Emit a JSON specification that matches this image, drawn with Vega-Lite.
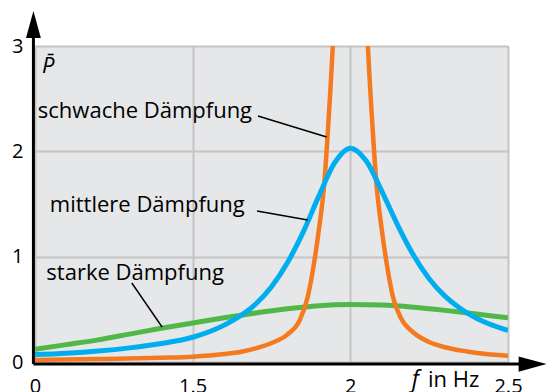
{
  "$schema": "https://vega.github.io/schema/vega-lite/v6.json",
  "width": 473,
  "height": 316,
  "autosize": {"type": "none"},
  "padding": {"left": 35, "top": 46, "right": 40, "bottom": 30},
  "background": "white",
  "config": {
    "view": {"fill": "#e6e7e8", "stroke": null},
    "font": "Open Sans"
  },
  "datasets": {
    "curves": [
      {"serie": "stark", "f": 1.0, "p": 0.12},
      {"serie": "stark", "f": 1.1, "p": 0.165},
      {"serie": "stark", "f": 1.2, "p": 0.21},
      {"serie": "stark", "f": 1.3, "p": 0.265},
      {"serie": "stark", "f": 1.4, "p": 0.32},
      {"serie": "stark", "f": 1.5, "p": 0.37},
      {"serie": "stark", "f": 1.6, "p": 0.42},
      {"serie": "stark", "f": 1.7, "p": 0.465},
      {"serie": "stark", "f": 1.8, "p": 0.505},
      {"serie": "stark", "f": 1.9, "p": 0.535},
      {"serie": "stark", "f": 2.0, "p": 0.545},
      {"serie": "stark", "f": 2.1, "p": 0.54},
      {"serie": "stark", "f": 2.2, "p": 0.52},
      {"serie": "stark", "f": 2.3, "p": 0.49},
      {"serie": "stark", "f": 2.4, "p": 0.455},
      {"serie": "stark", "f": 2.5, "p": 0.42},
      {"serie": "schwach", "f": 1.0, "p": 0.02},
      {"serie": "schwach", "f": 1.2, "p": 0.028},
      {"serie": "schwach", "f": 1.4, "p": 0.04},
      {"serie": "schwach", "f": 1.5, "p": 0.05},
      {"serie": "schwach", "f": 1.6, "p": 0.075},
      {"serie": "schwach", "f": 1.65, "p": 0.095},
      {"serie": "schwach", "f": 1.7, "p": 0.13},
      {"serie": "schwach", "f": 1.75, "p": 0.18},
      {"serie": "schwach", "f": 1.8, "p": 0.26},
      {"serie": "schwach", "f": 1.84, "p": 0.4},
      {"serie": "schwach", "f": 1.865, "p": 0.62},
      {"serie": "schwach", "f": 1.885, "p": 0.94},
      {"serie": "schwach", "f": 1.9, "p": 1.25},
      {"serie": "schwach", "f": 1.918, "p": 1.72},
      {"serie": "schwach", "f": 1.93, "p": 2.25},
      {"serie": "schwach", "f": 1.944, "p": 2.98},
      {"serie": "schwach", "f": 1.97, "p": 5},
      {"serie": "schwach", "f": 2.0, "p": 6},
      {"serie": "schwach", "f": 2.03, "p": 5},
      {"serie": "schwach", "f": 2.056, "p": 2.98},
      {"serie": "schwach", "f": 2.07, "p": 2.25},
      {"serie": "schwach", "f": 2.082, "p": 1.72},
      {"serie": "schwach", "f": 2.1, "p": 1.25},
      {"serie": "schwach", "f": 2.115, "p": 0.94},
      {"serie": "schwach", "f": 2.135, "p": 0.62},
      {"serie": "schwach", "f": 2.16, "p": 0.42},
      {"serie": "schwach", "f": 2.2, "p": 0.28},
      {"serie": "schwach", "f": 2.25, "p": 0.19},
      {"serie": "schwach", "f": 2.3, "p": 0.14},
      {"serie": "schwach", "f": 2.37, "p": 0.1},
      {"serie": "schwach", "f": 2.43, "p": 0.075},
      {"serie": "schwach", "f": 2.5, "p": 0.06},
      {"serie": "mittel", "f": 1.0, "p": 0.07},
      {"serie": "mittel", "f": 1.1, "p": 0.083},
      {"serie": "mittel", "f": 1.2, "p": 0.104},
      {"serie": "mittel", "f": 1.3, "p": 0.134},
      {"serie": "mittel", "f": 1.4, "p": 0.175},
      {"serie": "mittel", "f": 1.5, "p": 0.235},
      {"serie": "mittel", "f": 1.6, "p": 0.35},
      {"serie": "mittel", "f": 1.7, "p": 0.55},
      {"serie": "mittel", "f": 1.75, "p": 0.715},
      {"serie": "mittel", "f": 1.8, "p": 0.94},
      {"serie": "mittel", "f": 1.85, "p": 1.23},
      {"serie": "mittel", "f": 1.9, "p": 1.575},
      {"serie": "mittel", "f": 1.95, "p": 1.89},
      {"serie": "mittel", "f": 2.0, "p": 2.03},
      {"serie": "mittel", "f": 2.05, "p": 1.91},
      {"serie": "mittel", "f": 2.1, "p": 1.62},
      {"serie": "mittel", "f": 2.15, "p": 1.3},
      {"serie": "mittel", "f": 2.2, "p": 1.015},
      {"serie": "mittel", "f": 2.25, "p": 0.79},
      {"serie": "mittel", "f": 2.3, "p": 0.625},
      {"serie": "mittel", "f": 2.35, "p": 0.505},
      {"serie": "mittel", "f": 2.4, "p": 0.415},
      {"serie": "mittel", "f": 2.45, "p": 0.35},
      {"serie": "mittel", "f": 2.5, "p": 0.3}
    ],
    "labels": [
      {"label": "schwache Dämpfung", "f": 1.009, "p": 2.317},
      {"label": "mittlere Dämpfung", "f": 1.047, "p": 1.424},
      {"label": "starke Dämpfung", "f": 1.036, "p": 0.778}
    ],
    "leaders": [
      {"f": 1.707, "p": 2.335, "f2": 1.925, "p2": 2.136},
      {"f": 1.704, "p": 1.434, "f2": 1.865, "p2": 1.348},
      {"f": 1.307, "p": 0.75, "f2": 1.403, "p2": 0.332}
    ],
    "axislines": [
      {"f": 0.995, "p": -0.02, "f2": 0.995, "p2": 3.1},
      {"f": 0.995, "p": -0.02, "f2": 2.55, "p2": -0.02}
    ]
  },
  "encoding": {
    "x": {
      "field": "f", "type": "quantitative",
      "scale": {"domain": [1, 2.5], "nice": false, "zero": false},
      "axis": {
        "values": [1, 1.5, 2, 2.5], "title": null, "grid": true,
        "gridColor": "#c4c4c4", "gridWidth": 2, "gridOpacity": 1,
        "domain": false, "ticks": false, "labelFontSize": 20,
        "labelFont": "Open Sans", "labelColor": "black", "labelPadding": 14,
        "labelBound": false, "labelFlush": false, "labelOverlap": false,
        "labelExpr": "datum.value == 1 ? '0' : format(datum.value, '.2~f')"
      }
    },
    "y": {
      "field": "p", "type": "quantitative",
      "scale": {"domain": [0, 3], "nice": false},
      "axis": {
        "values": [0, 1, 2, 3], "title": null, "grid": true,
        "gridColor": "#c4c4c4", "gridWidth": 2, "gridOpacity": 1,
        "domain": false, "ticks": false, "labelFontSize": 20,
        "labelFont": "Open Sans", "labelColor": "black", "labelPadding": 12,
        "labelBound": false, "labelFlush": false, "labelOverlap": false
      }
    }
  },
  "layer": [
    {
      "data": {"name": "curves"},
      "transform": [{"filter": "datum.serie == 'stark'"}],
      "mark": {"type": "line", "clip": true, "color": "#50b848", "strokeWidth": 5, "interpolate": "monotone"}
    },
    {
      "data": {"name": "curves"},
      "transform": [{"filter": "datum.serie == 'schwach'"}],
      "mark": {"type": "line", "clip": true, "color": "#f47a20", "strokeWidth": 4.5, "interpolate": "monotone"}
    },
    {
      "data": {"name": "curves"},
      "transform": [{"filter": "datum.serie == 'mittel'"}],
      "mark": {"type": "line", "clip": true, "color": "#00aeef", "strokeWidth": 5, "interpolate": "monotone"}
    },
    {
      "data": {"name": "leaders"},
      "mark": {"type": "rule", "color": "black", "strokeWidth": 1.5},
      "encoding": {"x2": {"field": "f2"}, "y2": {"field": "p2"}}
    },
    {
      "data": {"name": "axislines"},
      "mark": {"type": "rule", "color": "black", "strokeWidth": 3},
      "encoding": {"x2": {"field": "f2"}, "y2": {"field": "p2"}}
    },
    {
      "data": {"values": [{"f": 0.995, "p": 3.205}]},
      "mark": {"type": "point", "shape": "M0,-1L0.55,1L-0.55,1Z", "size": 729, "filled": true, "color": "black", "opacity": 1, "strokeWidth": 0}
    },
    {
      "data": {"values": [{"f": 2.578, "p": -0.02}]},
      "mark": {"type": "point", "shape": "M1,0L-1,0.55L-1,-0.55Z", "size": 784, "filled": true, "color": "black", "opacity": 1, "strokeWidth": 0}
    },
    {
      "data": {"name": "labels"},
      "mark": {"type": "text", "align": "left", "baseline": "alphabetic", "fontSize": 22, "font": "Open Sans", "color": "black"},
      "encoding": {"text": {"field": "label"}}
    },
    {
      "data": {"values": [{"t": "P̄", "f": 1.022, "p": 2.744}]},
      "mark": {"type": "text", "align": "left", "baseline": "alphabetic", "fontSize": 22, "fontStyle": "italic", "font": "Open Sans", "color": "black"},
      "encoding": {"text": {"field": "t"}}
    },
    {
      "data": {"values": [{"t": "f", "f": 2.195, "p": -0.237}]},
      "mark": {"type": "text", "align": "left", "baseline": "alphabetic", "fontSize": 23, "fontStyle": "italic", "font": "Open Sans", "color": "black"},
      "encoding": {"text": {"field": "t"}}
    },
    {
      "data": {"values": [{"t": "in Hz", "f": 2.246, "p": -0.237}]},
      "mark": {"type": "text", "align": "left", "baseline": "alphabetic", "fontSize": 22, "font": "Open Sans", "color": "black"},
      "encoding": {"text": {"field": "t"}}
    }
  ]
}
